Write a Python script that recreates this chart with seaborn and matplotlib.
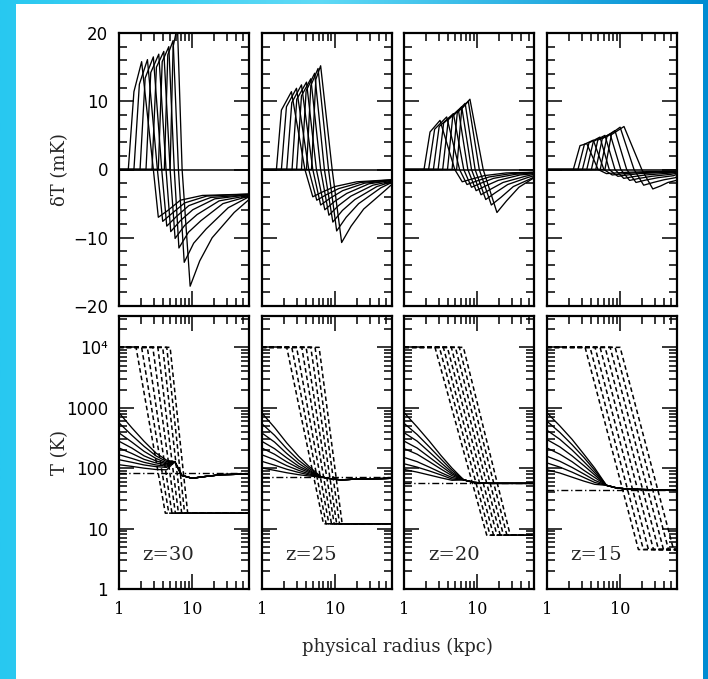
import numpy as np
import pandas as pd
import matplotlib
matplotlib.use("Agg")
import matplotlib.pyplot as plt
import seaborn as sns
from matplotlib.ticker import FixedLocator, LogLocator, MultipleLocator, NullFormatter, FixedFormatter
from matplotlib.patches import Rectangle

# ---------------- data ----------------
Z_LABELS = ["z=30", "z=25", "z=20", "z=15"]
R_MAX = 60

# top row: 21-cm brightness temperature profiles, 8 curves per panel
DT_R_ON = [[1.34, 1.60, 1.94, 2.34, 2.83, 3.45, 4.17, 5.0],
           [1.59, 1.86, 2.2, 2.6, 3.0, 3.5, 4.1, 4.8],
           [1.86, 2.15, 2.5, 2.9, 3.35, 3.9, 4.5, 5.2],
           [2.29, 2.65, 3.05, 3.5, 4.05, 4.65, 5.35, 6.2]]
DT_R_SH = [[1.60, 1.90, 2.28, 2.72, 3.25, 3.90, 4.65, 5.5],
           [1.86, 2.18, 2.58, 3.02, 3.5, 4.05, 4.7, 5.5],
           [2.25, 2.6, 3.0, 3.45, 4.0, 4.6, 5.3, 6.1],
           [2.83, 3.25, 3.75, 4.3, 4.95, 5.7, 6.6, 7.6]]
DT_V_SH = [[11.4, 12.5, 13.4, 14.2, 15.0, 15.8, 16.8, 18.0],
           [8.7, 9.2, 9.8, 10.3, 10.8, 11.5, 12.3, 13.2],
           [5.5, 5.9, 6.3, 6.8, 7.3, 7.8, 8.3, 8.9],
           [3.5, 3.7, 3.9, 4.1, 4.3, 4.5, 4.8, 5.1]]
DT_R_PK = [[2.04, 2.45, 2.95, 3.5, 4.1, 4.8, 5.5, 6.3],
           [2.55, 2.99, 3.5, 4.1, 4.7, 5.3, 5.9, 6.4],
           [3.08, 3.8, 4.7, 5.5, 6.1, 6.8, 7.5, 7.9],
           [3.5, 4.3, 5.3, 6.2, 7.3, 8.5, 10.0, 11.3]]
DT_V_PK = [[15.8, 16.1, 16.5, 16.9, 17.3, 18.0, 18.9, 21.0],
           [11.4, 11.9, 12.4, 12.8, 13.3, 14.1, 14.8, 15.2],
           [7.2, 7.7, 8.2, 8.7, 9.2, 9.7, 10.0, 10.3],
           [3.8, 4.3, 4.75, 5.0, 5.2, 5.7, 6.2, 6.3]]
DT_R_ZC = [[2.95, 3.35, 3.84, 4.4, 5.0, 5.7, 6.5, 7.3],
           [3.9, 4.4, 5.0, 5.6, 6.4, 7.2, 8.2, 9.2],
           [4.9, 5.7, 6.5, 7.4, 8.3, 9.3, 10.6, 12.0],
           [5.0, 6.0, 7.1, 8.5, 10.2, 12.3, 15.5, 19.8]]
DT_R_MN = [[3.45, 3.96, 4.5, 5.1, 5.85, 6.6, 7.8, 9.4],
           [5.0, 5.66, 6.4, 7.3, 8.3, 9.4, 10.6, 12.4],
           [6.2, 7.2, 8.3, 9.6, 11.2, 13.0, 15.5, 18.5],
           [6.5, 7.8, 9.3, 11.2, 13.5, 16.5, 21.0, 28.0]]
DT_V_MN = [[-7.0, -7.6, -8.3, -9.1, -10.1, -11.5, -13.6, -17.1],
           [-4.0, -4.5, -5.2, -5.9, -6.7, -7.7, -9.0, -10.7],
           [-1.8, -2.2, -2.6, -3.1, -3.7, -4.4, -5.2, -6.3],
           [-0.6, -0.8, -1.0, -1.3, -1.6, -1.9, -2.3, -2.85]]
# recovery after the minimum: three points read along each tail, then the value at R_MAX
DT_R_T0 = [[4.66, 5.35, 6.08, 6.9, 7.9, 8.9, 10.5, 12.7],
           [6.75, 7.64, 8.64, 9.86, 11.2, 12.7, 14.3, 16.7],
           [8.4, 9.7, 11.2, 13.0, 15.1, 17.6, 20.9, 25.0],
           [8.8, 10.5, 12.6, 15.1, 18.2, 22.3, 28.4, 36.0]]
DT_V_T0 = [[-6.0, -6.4, -6.9, -7.5, -8.2, -9.2, -10.8, -13.4],
           [-3.3, -3.7, -4.2, -4.7, -5.3, -6.0, -7.0, -8.3],
           [-1.4, -1.7, -2.0, -2.4, -2.9, -3.4, -4.1, -4.6],
           [-0.5, -0.65, -0.8, -1.05, -1.3, -1.55, -1.9, -2.4]]
DT_R_T1 = [[6.9, 7.9, 9.0, 10.2, 11.7, 13.2, 15.6, 18.8],
           [10.0, 11.3, 12.8, 14.6, 16.6, 18.8, 21.2, 24.8],
           [12.4, 14.4, 16.6, 19.2, 22.4, 26.0, 31.0, 37.0],
           [13.0, 15.6, 18.6, 22.4, 27.0, 33.0, 40.0, 45.0]]
DT_V_T1 = [[-4.5, -4.9, -5.3, -5.9, -6.6, -7.5, -8.7, -10.0],
           [-2.5, -2.8, -3.1, -3.5, -3.9, -4.4, -5.0, -5.8],
           [-0.9, -1.1, -1.3, -1.6, -1.9, -2.2, -2.5, -2.6],
           [-0.4, -0.5, -0.6, -0.8, -1.0, -1.2, -1.5, -1.9]]
DT_R_T2 = [[13.8, 15.8, 18.0, 20.4, 23.4, 26.4, 31.2, 37.6],
           [20.0, 22.6, 25.6, 29.2, 33.2, 37.6, 42.4, 49.6],
           [24.8, 28.8, 33.2, 38.4, 44.8, 48.0, 50.0, 52.0],
           [26.0, 31.0, 37.0, 45.0, 50.0, 54.0, 57.0, 58.5]]
DT_V_T2 = [[-3.8, -3.9, -4.1, -4.3, -4.6, -5.0, -5.6, -6.3],
           [-1.8, -1.9, -2.0, -2.1, -2.3, -2.5, -2.7, -3.0],
           [-0.5, -0.6, -0.7, -0.8, -1.0, -1.2, -1.5, -1.6],
           [-0.3, -0.4, -0.45, -0.55, -0.7, -0.9, -1.2, -1.6]]
DT_V_END = [[-3.6, -3.6, -3.7, -3.7, -3.8, -3.9, -4.0, -4.4],
            [-1.5, -1.5, -1.6, -1.6, -1.7, -1.8, -1.9, -2.2],
            [-0.4, -0.4, -0.5, -0.6, -0.7, -0.9, -1.1, -1.2],
            [-0.3, -0.3, -0.4, -0.45, -0.55, -0.7, -1.0, -1.4]]

# bottom row: kinetic temperature (dashed), spin temperature (solid), CMB (dash-dot)
TK_TOP = 1.0e4
TK_IGM = [18.0, 12.0, 7.8, 4.5]
TK_R_KNEE = [[1.71, 2.04, 2.44, 2.9, 3.4, 3.96, 4.5, 5.0],
             [2.2, 2.58, 3.0, 3.53, 4.05, 4.69, 5.37, 6.1],
             [2.63, 3.02, 3.42, 3.88, 4.4, 5.0, 5.66, 6.43],
             [3.32, 3.88, 4.54, 5.32, 6.23, 7.3, 8.55, 10.0]]
TK_R_FOOT = [[4.3, 4.8, 5.3, 5.9, 6.5, 7.2, 7.9, 8.7],
             [7.0, 7.6, 8.3, 9.0, 9.8, 10.6, 11.6, 12.6],
             [13.4, 14.9, 16.6, 18.5, 20.5, 22.7, 25.3, 28.1],
             [17.8, 20.8, 24.4, 28.6, 33.5, 39.2, 45.9, 53.8]]
T_CMB = [84.5, 70.8, 57.2, 43.6]

TS_R_IN = [1.0, 1.5, 2.2, 3.2, 4.5]
TS_IN = [
    [[825, 465, 279, 178, 135], [562, 350, 230, 160, 128], [384, 270, 190, 145, 122],
     [279, 215, 160, 132, 118], [216, 175, 140, 122, 113], [167, 145, 125, 113, 108],
     [138, 125, 113, 106, 103], [114, 107, 100, 95, 94]],
    [[825, 470, 262, 157, 105], [548, 350, 210, 135, 98], [384, 270, 175, 120, 92],
     [279, 210, 148, 108, 88], [216, 170, 127, 100, 84], [167, 138, 110, 92, 80],
     [130, 112, 96, 85, 77], [101, 92, 84, 78, 74]],
    [[825, 480, 280, 160, 100], [548, 360, 225, 140, 92], [384, 280, 185, 122, 85],
     [279, 215, 152, 108, 80], [210, 170, 128, 96, 75], [150, 128, 104, 84, 70],
     [118, 104, 90, 77, 66], [95, 86, 77, 69, 63]],
    [[825, 500, 300, 170, 100], [598, 390, 245, 150, 92], [424, 300, 200, 128, 84],
     [297, 225, 160, 110, 77], [216, 170, 128, 92, 70], [157, 130, 103, 80, 63],
     [122, 104, 86, 70, 58], [94, 83, 71, 61, 54]],
]
TS_R_OUT = [[5.8, 7.2, 10.0, 14.0, 25.0, 60.0],
            [6.5, 8.0, 12.0, 20.0, 40.0, 60.0],
            [6.5, 9.0, 15.0, 30.0, 45.0, 60.0],
            [6.5, 9.0, 13.0, 25.0, 40.0, 60.0]]
TS_OUT = [[128, 76, 68, 72, 78, 80],
          [72, 68, 64, 66, 67, 68],
          [64, 58, 56, 56, 56, 56],
          [52, 47, 45, 44, 44, 44]]

# ---------------- build tables ----------------
rows = []
for p in range(4):
    for c in range(8):
        rr = [1.0, DT_R_ON[p][c], DT_R_SH[p][c], DT_R_PK[p][c], DT_R_ZC[p][c],
              DT_R_MN[p][c], DT_R_T0[p][c], DT_R_T1[p][c], DT_R_T2[p][c], R_MAX]
        vv = [0.0, 0.0, DT_V_SH[p][c], DT_V_PK[p][c], 0.0,
              DT_V_MN[p][c], DT_V_T0[p][c], DT_V_T1[p][c], DT_V_T2[p][c], DT_V_END[p][c]]
        for k, (r, v) in enumerate(zip(rr, vv)):
            rows.append(dict(panel=p, curve=c, order=k, r=r, v=v))
df_dt = pd.DataFrame(rows)

rows = []
for p in range(4):
    for c in range(8):
        rr = [1.0, TK_R_KNEE[p][c], TK_R_FOOT[p][c], R_MAX]
        vv = [TK_TOP, TK_TOP, TK_IGM[p], TK_IGM[p]]
        for k, (r, v) in enumerate(zip(rr, vv)):
            rows.append(dict(panel=p, curve=c, order=k, r=r, T=v))
df_tk = pd.DataFrame(rows)

rows = []
for p in range(4):
    for c in range(8):
        rr = list(TS_R_IN) + list(TS_R_OUT[p])
        vv = list(TS_IN[p][c]) + list(TS_OUT[p])
        for k, (r, v) in enumerate(zip(rr, vv)):
            rows.append(dict(panel=p, curve=c, order=k, r=r, T=v))
df_ts = pd.DataFrame(rows)

df_cmb = pd.DataFrame([dict(panel=p, r=r, T=T_CMB[p]) for p in range(4) for r in (1.0, R_MAX)])

# ---------------- figure ----------------
sns.set_style("ticks")
plt.rcParams['font.family'] = ['DejaVu Sans']
plt.rcParams['axes.unicode_minus'] = True
plt.rcParams['lines.solid_joinstyle'] = 'round'

W, H = 708, 679
fig = plt.figure(figsize=(W / 100, H / 100), dpi=100)

# background gradient and white sheet
bg = fig.add_axes([0, 0, 1, 1], zorder=-10)
stops_x = [0.0, 0.45, 1.0]
stops_c = np.array([[40, 200, 240], [95, 218, 246], [0, 140, 210]]) / 255.0
xs = np.linspace(0, 1, 400)
grad = np.stack([np.interp(xs, stops_x, stops_c[:, i]) for i in range(3)], axis=-1)[None, :, :]
bg.imshow(grad, aspect='auto', extent=[0, 1, 0, 1])
bg.add_patch(Rectangle((16 / W, 0), (703 - 16) / W, (679 - 4) / H, facecolor='white', edgecolor='none'))
bg.set_xlim(0, 1)
bg.set_ylim(0, 1)
bg.axis('off')

col_x = [119, 261.7, 404.3, 547]
pw, ph = 130, 273
top_y, bot_y = 33, 316

LW = 0.95


def style_axes(ax):
    ax.set_xlabel('')
    ax.set_ylabel('')
    ax.tick_params(which='both', direction='in', top=True, right=True, width=1.1, colors='k',
                   labelsize=12, pad=8)
    ax.tick_params(which='major', length=11)
    ax.tick_params(which='minor', length=5.5)
    for s in ax.spines.values():
        s.set_linewidth(1.6)
        s.set_color('k')


for p in range(4):
    # ---- top panel ----
    ax = fig.add_axes([col_x[p] / W, 1 - (top_y + ph) / H, pw / W, ph / H])
    ax.set_xscale('log')
    ax.axhline(0, color='k', lw=1.1)
    sub = df_dt[df_dt.panel == p].sort_values(['curve', 'order'])
    sns.lineplot(data=sub, x='r', y='v', units='curve', estimator=None, sort=False,
                 color='k', lw=LW, legend=False, ax=ax)
    ax.set_xlim(1, R_MAX)
    ax.set_ylim(-20, 20)
    ax.yaxis.set_major_locator(FixedLocator([-20, -10, 0, 10, 20]))
    ax.yaxis.set_minor_locator(MultipleLocator(2))
    ax.xaxis.set_major_locator(FixedLocator([1, 10]))
    ax.xaxis.set_minor_locator(LogLocator(base=10, subs=range(2, 10), numticks=10))
    ax.xaxis.set_major_formatter(NullFormatter())
    ax.xaxis.set_minor_formatter(NullFormatter())
    if p != 0:
        ax.yaxis.set_major_formatter(NullFormatter())
    style_axes(ax)

    # ---- bottom panel ----
    ax = fig.add_axes([col_x[p] / W, 1 - (bot_y + ph) / H, pw / W, ph / H])
    ax.set_xscale('log')
    ax.set_yscale('log')
    subc = df_cmb[df_cmb.panel == p]
    sns.lineplot(data=subc, x='r', y='T', estimator=None, sort=False, color='k', lw=1.0,
                 linestyle=(0, (5, 2, 1, 2)), legend=False, ax=ax)
    subk = df_tk[df_tk.panel == p].sort_values(['curve', 'order'])
    sns.lineplot(data=subk, x='r', y='T', units='curve', estimator=None, sort=False,
                 color='k', lw=1.1, linestyle=(0, (3.0, 2.0)), legend=False, ax=ax)
    subs = df_ts[df_ts.panel == p].sort_values(['curve', 'order'])
    sns.lineplot(data=subs, x='r', y='T', units='curve', estimator=None, sort=False,
                 color='k', lw=LW, legend=False, ax=ax)
    ax.set_xlim(1, R_MAX)
    ax.set_ylim(1, 3.3e4)
    ax.yaxis.set_major_locator(FixedLocator([1, 10, 100, 1000, 1e4]))
    ax.yaxis.set_minor_locator(LogLocator(base=10, subs=range(2, 10), numticks=12))
    ax.yaxis.set_minor_formatter(NullFormatter())
    if p == 0:
        ax.yaxis.set_major_formatter(FixedFormatter(['1', '10', '100', '1000', '10⁴']))
    else:
        ax.yaxis.set_major_formatter(NullFormatter())
    ax.xaxis.set_major_locator(FixedLocator([1, 10]))
    ax.xaxis.set_minor_locator(LogLocator(base=10, subs=range(2, 10), numticks=10))
    ax.xaxis.set_major_formatter(FixedFormatter(['1', '10']))
    ax.xaxis.set_minor_formatter(NullFormatter())
    style_axes(ax)
    ax.tick_params(axis='x', labelfontfamily='DejaVu Serif', labelsize=11.5, pad=9)
    ax.text(0.38, 0.125, Z_LABELS[p], transform=ax.transAxes, ha='center', va='center',
            family='DejaVu Serif', fontsize=14)

fig.text(60 / W, 1 - 169.5 / H, 'δT (mK)', rotation=90, ha='center', va='center',
         family='DejaVu Serif', fontsize=13)
fig.text(60 / W, 1 - 452.5 / H, 'T (K)', rotation=90, ha='center', va='center',
         family='DejaVu Serif', fontsize=13)
fig.text(397 / W, 1 - 647 / H, 'physical radius (kpc)', ha='center', va='center',
         family='DejaVu Serif', fontsize=13)

fig.savefig('out.png', dpi=100)
